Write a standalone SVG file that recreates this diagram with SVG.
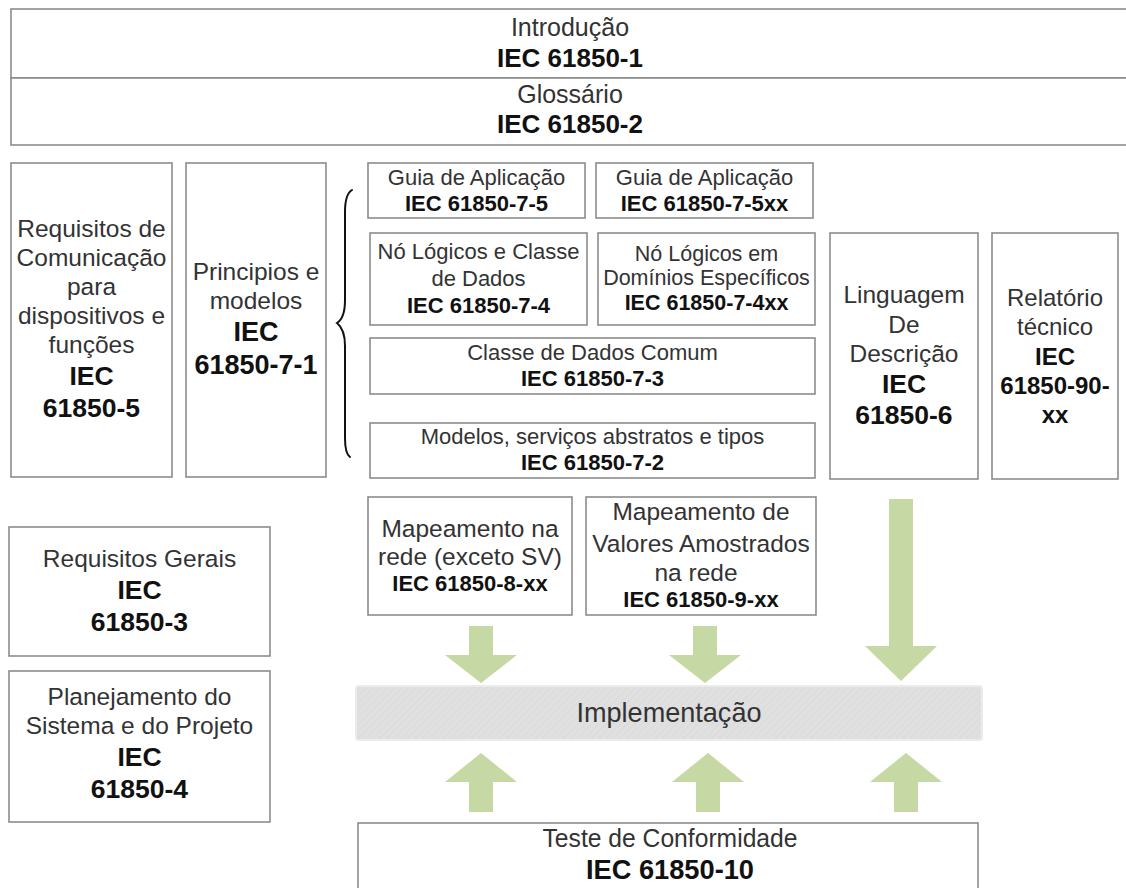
<svg xmlns="http://www.w3.org/2000/svg" width="1126" height="888" viewBox="0 0 1126 888">
  <defs>
    <style>
      .box { fill: #ffffff; stroke: #8c8c8c; stroke-width: 1.6; }
      .t { font-family: "Liberation Sans", Arial, sans-serif; fill: #333333; text-anchor: middle; }
      .b { font-family: "Liberation Sans", Arial, sans-serif; fill: #111111; font-weight: bold; text-anchor: middle; }
      .arrow { fill: #c6d8a3; }
      .brace { fill: none; stroke: #111111; stroke-width: 2; stroke-linecap: round; }
    </style>
    <pattern id="hatch" width="5" height="5" patternUnits="userSpaceOnUse" patternTransform="rotate(45)">
      <rect width="5" height="5" fill="#e0e0e0"/>
      <line x1="0" y1="0" x2="0" y2="5" stroke="#d9d9d9" stroke-width="1.5"/>
    </pattern>
  </defs>
  <rect width="1126" height="888" fill="#ffffff"/>

  <!-- overview parts -->
  <g id="iec-1">
    <rect class="box" x="11" y="9" width="1130" height="69"/>
    <text class="t" x="570" y="36" font-size="25">Introdução</text>
    <text class="b" x="570" y="67" font-size="26">IEC 61850-1</text>
  </g>
  <g id="iec-2">
    <rect class="box" x="11" y="78" width="1130" height="67"/>
    <text class="t" x="570" y="103" font-size="25">Glossário</text>
    <text class="b" x="570" y="133" font-size="26">IEC 61850-2</text>
  </g>

  <!-- left column -->
  <g id="iec-5">
    <rect class="box" x="11" y="163" width="161" height="314"/>
    <text class="t" x="91.5" y="237" font-size="24.5">Requisitos de</text>
    <text class="t" x="91.5" y="266" font-size="24.5">Comunicação</text>
    <text class="t" x="91.5" y="295" font-size="24.5">para</text>
    <text class="t" x="91.5" y="324" font-size="24.5">dispositivos e</text>
    <text class="t" x="91.5" y="353" font-size="24.5">funções</text>
    <text class="b" x="91.5" y="385" font-size="26.5">IEC</text>
    <text class="b" x="91.5" y="417" font-size="26.5">61850-5</text>
  </g>
  <g id="iec-7-1">
    <rect class="box" x="186" y="163" width="140" height="314"/>
    <text class="t" x="256" y="280" font-size="24.5">Principios e</text>
    <text class="t" x="256" y="309" font-size="24.5">modelos</text>
    <text class="b" x="256" y="341" font-size="27">IEC</text>
    <text class="b" x="256" y="374" font-size="27">61850-7-1</text>
  </g>

  <!-- brace grouping the part 7 documents -->
  <g id="bracket">
    <path class="brace" d="M352 190 C347 193 345 200 345 212 L345 300 C345 314 342 320 337 323 C342 327 345 334 345 346 L345 438 C345 450 347 455 350 457"/>
  </g>

  <!-- part 7 documents -->
  <g id="iec-7-5">
    <rect class="box" x="368" y="163" width="217" height="55"/>
    <text class="t" x="476.5" y="185" font-size="22">Guia de Aplicação</text>
    <text class="b" x="476.5" y="211" font-size="22">IEC 61850-7-5</text>
  </g>
  <g id="iec-7-5xx">
    <rect class="box" x="596" y="163" width="217" height="55"/>
    <text class="t" x="704.5" y="185" font-size="22">Guia de Aplicação</text>
    <text class="b" x="704.5" y="211" font-size="22">IEC 61850-7-5xx</text>
  </g>
  <g id="iec-7-4">
    <rect class="box" x="370" y="233" width="217" height="92"/>
    <text class="t" x="478.5" y="259" font-size="22">Nó Lógicos e Classe</text>
    <text class="t" x="478.5" y="286" font-size="22">de Dados</text>
    <text class="b" x="478.5" y="313" font-size="22">IEC 61850-7-4</text>
  </g>
  <g id="iec-7-4xx">
    <rect class="box" x="598" y="233" width="217" height="92"/>
    <text class="t" x="706.5" y="261" font-size="21.5">Nó Lógicos em</text>
    <text class="t" x="706.5" y="285" font-size="21.5">Domínios Específicos</text>
    <text class="b" x="706.5" y="310" font-size="21.5">IEC 61850-7-4xx</text>
  </g>
  <g id="iec-7-3">
    <rect class="box" x="370" y="338" width="445" height="56"/>
    <text class="t" x="592.5" y="360" font-size="22">Classe de Dados Comum</text>
    <text class="b" x="592.5" y="386" font-size="22">IEC 61850-7-3</text>
  </g>
  <g id="iec-7-2">
    <rect class="box" x="370" y="423" width="445" height="55"/>
    <text class="t" x="592.5" y="444" font-size="22">Modelos, serviços abstratos e tipos</text>
    <text class="b" x="592.5" y="470" font-size="22">IEC 61850-7-2</text>
  </g>

  <!-- right column -->
  <g id="iec-6">
    <rect class="box" x="830" y="233" width="148" height="246"/>
    <text class="t" x="904" y="303" font-size="24.5">Linguagem</text>
    <text class="t" x="904" y="333" font-size="24.5">De</text>
    <text class="t" x="904" y="362" font-size="24.5">Descrição</text>
    <text class="b" x="904" y="393" font-size="26.5">IEC</text>
    <text class="b" x="904" y="424" font-size="26.5">61850-6</text>
  </g>
  <g id="iec-90-xx">
    <rect class="box" x="992" y="233" width="126" height="246"/>
    <text class="t" x="1055" y="306" font-size="24">Relatório</text>
    <text class="t" x="1055" y="335" font-size="24">técnico</text>
    <text class="b" x="1055" y="365" font-size="24">IEC</text>
    <text class="b" x="1055" y="394" font-size="24">61850-90-</text>
    <text class="b" x="1055" y="423" font-size="24">xx</text>
  </g>

  <!-- mappings -->
  <g id="iec-8-xx">
    <rect class="box" x="368" y="497" width="204" height="118"/>
    <text class="t" x="470" y="537" font-size="24.5">Mapeamento na</text>
    <text class="t" x="470" y="565" font-size="24.5">rede (exceto SV)</text>
    <text class="b" x="470" y="591" font-size="22">IEC 61850-8-xx</text>
  </g>
  <g id="iec-9-xx">
    <rect class="box" x="586" y="497" width="230" height="118"/>
    <text class="t" x="701" y="520" font-size="24.5">Mapeamento de</text>
    <text class="t" x="701" y="552" font-size="24.5">Valores Amostrados</text>
    <text class="t" x="696" y="581" font-size="24.5">na rede</text>
    <text class="b" x="701" y="607" font-size="22">IEC 61850-9-xx</text>
  </g>

  <!-- general parts -->
  <g id="iec-3">
    <rect class="box" x="9" y="527" width="261" height="129"/>
    <text class="t" x="139.5" y="567" font-size="24.5">Requisitos Gerais</text>
    <text class="b" x="139.5" y="599" font-size="26.5">IEC</text>
    <text class="b" x="139.5" y="631" font-size="26.5">61850-3</text>
  </g>
  <g id="iec-4">
    <rect class="box" x="9" y="671" width="261" height="151"/>
    <text class="t" x="139.5" y="705" font-size="24.5">Planejamento do</text>
    <text class="t" x="139.5" y="734" font-size="24.5">Sistema e do Projeto</text>
    <text class="b" x="139.5" y="766" font-size="26.5">IEC</text>
    <text class="b" x="139.5" y="798" font-size="26.5">61850-4</text>
  </g>

  <!-- implementation bar -->
  <g id="implementacao">
    <rect x="356" y="686" width="626" height="54" rx="3" fill="url(#hatch)" stroke="#ebebeb" stroke-width="2"/>
    <text class="t" x="669" y="722" font-size="28" textLength="185" lengthAdjust="spacingAndGlyphs">Implementação</text>
  </g>

  <!-- conformance testing -->
  <g id="iec-10">
    <rect class="box" x="358" y="823" width="620" height="80"/>
    <text class="t" x="670" y="847" font-size="26" textLength="255" lengthAdjust="spacingAndGlyphs">Teste de Conformidade</text>
    <text class="b" x="670" y="879" font-size="28" textLength="168" lengthAdjust="spacingAndGlyphs">IEC 61850-10</text>
  </g>

  <!-- block arrows into and out of the implementation -->
  <g id="connectors">
    <polygon class="arrow" points="469,626 493,626 493,655 517,655 481,683 445,655 469,655"/>
    <polygon class="arrow" points="693,626 717,626 717,655 741,655 705,683 669,655 693,655"/>
    <polygon class="arrow" points="889,499 913,499 913,646 937,646 901,681 865,646 889,646"/>
    <polygon class="arrow" points="481,753 517,782 493,782 493,812 469,812 469,782 445,782"/>
    <polygon class="arrow" points="708,753 744,782 720,782 720,812 696,812 696,782 672,782"/>
    <polygon class="arrow" points="906,753 942,782 918,782 918,812 894,812 894,782 870,782"/>
  </g>
</svg>
